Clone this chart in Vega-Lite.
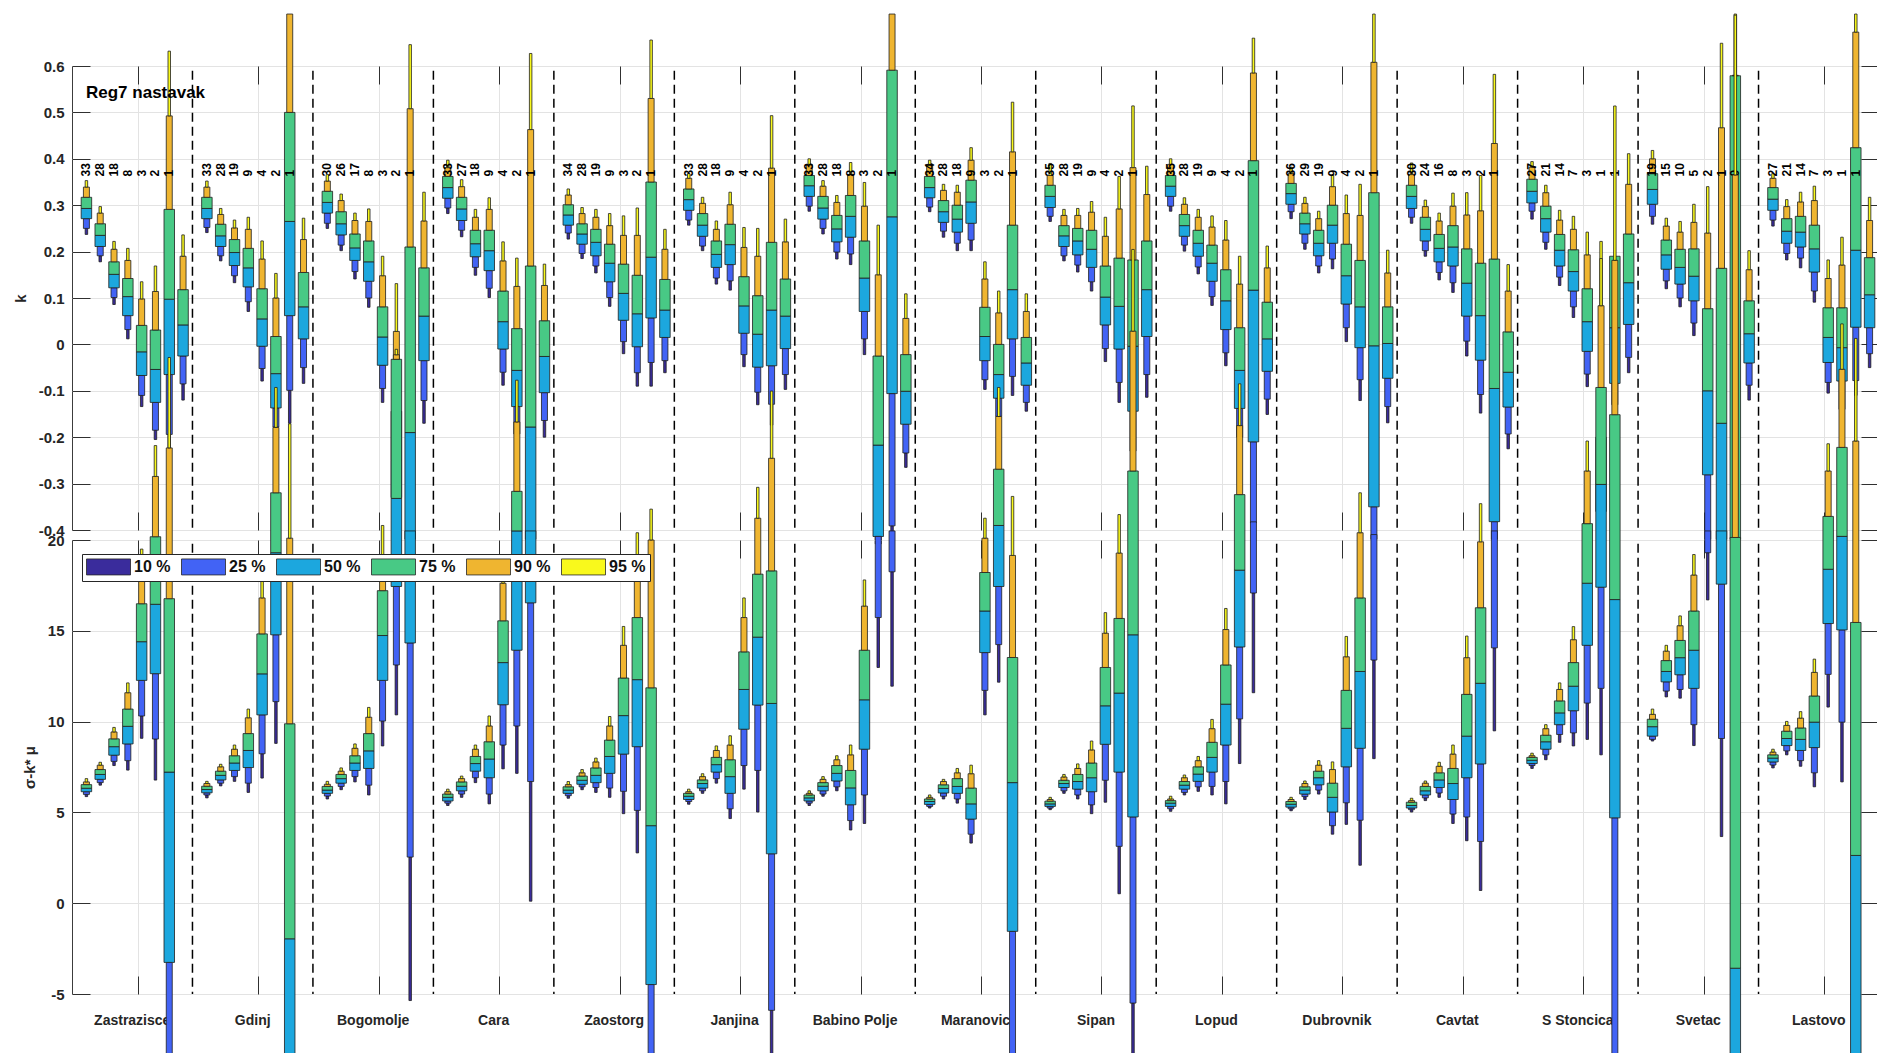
{
"$schema":"https://vega.github.io/schema/vega-lite/v6.json",
"autosize":{"type":"pad"},
"padding":{"left":12,"top":13,"right":0,"bottom":0},
"background":"white",
"spacing":10,
"bounds":"flush",
"datasets":{
"sep":[{"st":"Zastrazisce"},{"st":"Gdinj"},{"st":"Bogomolje"},{"st":"Cara"},{"st":"Zaostorg"},{"st":"Janjina"},{"st":"Babino Polje"},{"st":"Maranovic"},{"st":"Sipan"},{"st":"Lopud"},{"st":"Dubrovnik"},{"st":"Cavtat"},{"st":"S Stoncica"},{"st":"Svetac"}],
"k":[
{"st":"Zastrazisce","bx":1,"q05":0.237,"q10":0.25,"q25":0.271,"q50":0.293,"q75":0.317,"q90":0.339,"q95":0.353,"n":"33"},
{"st":"Zastrazisce","bx":2,"q05":0.178,"q10":0.191,"q25":0.211,"q50":0.235,"q75":0.26,"q90":0.283,"q95":0.297,"n":"28"},
{"st":"Zastrazisce","bx":3,"q05":0.086,"q10":0.101,"q25":0.122,"q50":0.151,"q75":0.178,"q90":0.205,"q95":0.222,"n":"18"},
{"st":"Zastrazisce","bx":4,"q05":0.012,"q10":0.032,"q25":0.062,"q50":0.103,"q75":0.142,"q90":0.181,"q95":0.207,"n":"8"},
{"st":"Zastrazisce","bx":5,"q05":-0.134,"q10":-0.11,"q25":-0.067,"q50":-0.016,"q75":0.041,"q90":0.098,"q95":0.135,"n":"3"},
{"st":"Zastrazisce","bx":6,"q05":-0.205,"q10":-0.185,"q25":-0.125,"q50":-0.054,"q75":0.031,"q90":0.114,"q95":0.169,"n":"2"},
{"st":"Zastrazisce","bx":7,"q05":-0.25,"q10":-0.194,"q25":-0.065,"q50":0.0975,"q75":0.291,"q90":0.4925,"q95":0.632,"n":"1"},
{"st":"Zastrazisce","bx":8,"q05":-0.12,"q10":-0.085,"q25":-0.025,"q50":0.042,"q75":0.118,"q90":0.19,"q95":0.236},
{"st":"Gdinj","bx":1,"q05":0.241,"q10":0.252,"q25":0.271,"q50":0.293,"q75":0.317,"q90":0.339,"q95":0.352,"n":"33"},
{"st":"Gdinj","bx":2,"q05":0.18,"q10":0.191,"q25":0.211,"q50":0.234,"q75":0.259,"q90":0.28,"q95":0.293,"n":"28"},
{"st":"Gdinj","bx":3,"q05":0.133,"q10":0.148,"q25":0.17,"q50":0.198,"q75":0.226,"q90":0.251,"q95":0.268,"n":"19"},
{"st":"Gdinj","bx":4,"q05":0.071,"q10":0.092,"q25":0.124,"q50":0.165,"q75":0.207,"q90":0.248,"q95":0.274,"n":"9"},
{"st":"Gdinj","bx":5,"q05":-0.079,"q10":-0.052,"q25":-0.004,"q50":0.055,"q75":0.12,"q90":0.184,"q95":0.223,"n":"4"},
{"st":"Gdinj","bx":6,"q05":-0.204,"q10":-0.178,"q25":-0.137,"q50":-0.063,"q75":0.017,"q90":0.1,"q95":0.153,"n":"2"},
{"st":"Gdinj","bx":7,"q05":-0.17,"q10":-0.099,"q25":0.062,"q50":0.265,"q75":0.5,"q90":0.712,"q95":0.712,"n":"1"},
{"st":"Gdinj","bx":8,"q05":-0.084,"q10":-0.05,"q25":0.012,"q50":0.081,"q75":0.155,"q90":0.226,"q95":0.272},
{"st":"Bogomolje","bx":1,"q05":0.25,"q10":0.261,"q25":0.283,"q50":0.306,"q75":0.33,"q90":0.352,"q95":0.366,"n":"30"},
{"st":"Bogomolje","bx":2,"q05":0.202,"q10":0.214,"q25":0.236,"q50":0.26,"q75":0.286,"q90":0.31,"q95":0.324,"n":"26"},
{"st":"Bogomolje","bx":3,"q05":0.141,"q10":0.157,"q25":0.181,"q50":0.208,"q75":0.238,"q90":0.267,"q95":0.283,"n":"17"},
{"st":"Bogomolje","bx":4,"q05":0.08,"q10":0.1,"q25":0.136,"q50":0.178,"q75":0.223,"q90":0.265,"q95":0.292,"n":"8"},
{"st":"Bogomolje","bx":5,"q05":-0.125,"q10":-0.095,"q25":-0.045,"q50":0.016,"q75":0.081,"q90":0.148,"q95":0.19,"n":"3"},
{"st":"Bogomolje","bx":6,"q05":-0.4,"q10":-0.38,"q25":-0.33,"q50":-0.25,"q75":-0.144,"q90":0.028,"q95":0.131,"n":"2"},
{"st":"Bogomolje","bx":7,"q05":-0.42,"q10":-0.42,"q25":-0.42,"q50":-0.19,"q75":0.21,"q90":0.508,"q95":0.646,"n":"1"},
{"st":"Bogomolje","bx":8,"q05":-0.17,"q10":-0.121,"q25":-0.035,"q50":0.061,"q75":0.165,"q90":0.266,"q95":0.328},
{"st":"Cara","bx":1,"q05":0.282,"q10":0.294,"q25":0.315,"q50":0.338,"q75":0.362,"q90":0.381,"q95":0.397,"n":"33"},
{"st":"Cara","bx":2,"q05":0.232,"q10":0.246,"q25":0.267,"q50":0.292,"q75":0.317,"q90":0.34,"q95":0.355,"n":"27"},
{"st":"Cara","bx":3,"q05":0.149,"q10":0.166,"q25":0.189,"q50":0.217,"q75":0.246,"q90":0.274,"q95":0.291,"n":"18"},
{"st":"Cara","bx":4,"q05":0.101,"q10":0.121,"q25":0.159,"q50":0.202,"q75":0.246,"q90":0.291,"q95":0.316,"n":"9"},
{"st":"Cara","bx":5,"q05":-0.088,"q10":-0.06,"q25":-0.01,"q50":0.049,"q75":0.115,"q90":0.18,"q95":0.221,"n":"4"},
{"st":"Cara","bx":6,"q05":-0.219,"q10":-0.193,"q25":-0.134,"q50":-0.056,"q75":0.034,"q90":0.125,"q95":0.186,"n":"2"},
{"st":"Cara","bx":7,"q05":-0.42,"q10":-0.42,"q25":-0.42,"q50":-0.178,"q75":0.169,"q90":0.463,"q95":0.627,"n":"1"},
{"st":"Cara","bx":8,"q05":-0.2,"q10":-0.164,"q25":-0.104,"q50":-0.026,"q75":0.051,"q90":0.127,"q95":0.173},
{"st":"Zaostorg","bx":1,"q05":0.227,"q10":0.24,"q25":0.257,"q50":0.279,"q75":0.301,"q90":0.322,"q95":0.335,"n":"34"},
{"st":"Zaostorg","bx":2,"q05":0.185,"q10":0.196,"q25":0.216,"q50":0.238,"q75":0.26,"q90":0.282,"q95":0.295,"n":"28"},
{"st":"Zaostorg","bx":3,"q05":0.154,"q10":0.169,"q25":0.191,"q50":0.22,"q75":0.248,"q90":0.274,"q95":0.291,"n":"19"},
{"st":"Zaostorg","bx":4,"q05":0.082,"q10":0.101,"q25":0.135,"q50":0.175,"q75":0.216,"q90":0.256,"q95":0.282,"n":"9"},
{"st":"Zaostorg","bx":5,"q05":-0.02,"q10":0.006,"q25":0.052,"q50":0.11,"q75":0.173,"q90":0.235,"q95":0.277,"n":"3"},
{"st":"Zaostorg","bx":6,"q05":-0.09,"q10":-0.061,"q25":-0.005,"q50":0.066,"q75":0.149,"q90":0.235,"q95":0.294,"n":"2"},
{"st":"Zaostorg","bx":7,"q05":-0.09,"q10":-0.039,"q25":0.057,"q50":0.188,"q75":0.35,"q90":0.53,"q95":0.656,"n":"1"},
{"st":"Zaostorg","bx":8,"q05":-0.061,"q10":-0.035,"q25":0.015,"q50":0.074,"q75":0.14,"q90":0.205,"q95":0.248},
{"st":"Janjina","bx":1,"q05":0.257,"q10":0.268,"q25":0.289,"q50":0.312,"q75":0.335,"q90":0.358,"q95":0.368,"n":"33"},
{"st":"Janjina","bx":2,"q05":0.202,"q10":0.212,"q25":0.233,"q50":0.257,"q75":0.282,"q90":0.304,"q95":0.317,"n":"28"},
{"st":"Janjina","bx":3,"q05":0.13,"q10":0.143,"q25":0.166,"q50":0.194,"q75":0.223,"q90":0.248,"q95":0.266,"n":"18"},
{"st":"Janjina","bx":4,"q05":0.117,"q10":0.137,"q25":0.172,"q50":0.215,"q75":0.259,"q90":0.301,"q95":0.328,"n":"9"},
{"st":"Janjina","bx":5,"q05":-0.048,"q10":-0.022,"q25":0.024,"q50":0.083,"q75":0.146,"q90":0.209,"q95":0.252,"n":"4"},
{"st":"Janjina","bx":6,"q05":-0.13,"q10":-0.103,"q25":-0.049,"q50":0.022,"q75":0.105,"q90":0.19,"q95":0.25,"n":"2"},
{"st":"Janjina","bx":7,"q05":-0.174,"q10":-0.129,"q25":-0.046,"q50":0.074,"q75":0.22,"q90":0.38,"q95":0.493,"n":"1"},
{"st":"Janjina","bx":8,"q05":-0.097,"q10":-0.065,"q25":-0.009,"q50":0.061,"q75":0.141,"q90":0.221,"q95":0.27},
{"st":"Babino Polje","bx":1,"q05":0.287,"q10":0.298,"q25":0.319,"q50":0.342,"q75":0.364,"q90":0.388,"q95":0.4,"n":"33"},
{"st":"Babino Polje","bx":2,"q05":0.238,"q10":0.25,"q25":0.27,"q50":0.294,"q75":0.319,"q90":0.341,"q95":0.353,"n":"28"},
{"st":"Babino Polje","bx":3,"q05":0.184,"q10":0.199,"q25":0.221,"q50":0.249,"q75":0.278,"q90":0.306,"q95":0.321,"n":"18"},
{"st":"Babino Polje","bx":4,"q05":0.172,"q10":0.195,"q25":0.231,"q50":0.276,"q75":0.321,"q90":0.366,"q95":0.392,"n":"8"},
{"st":"Babino Polje","bx":5,"q05":-0.022,"q10":0.012,"q25":0.071,"q50":0.143,"q75":0.223,"q90":0.298,"q95":0.349,"n":"3"},
{"st":"Babino Polje","bx":6,"q05":-0.43,"q10":-0.43,"q25":-0.414,"q50":-0.217,"q75":-0.025,"q90":0.15,"q95":0.257,"n":"2"},
{"st":"Babino Polje","bx":7,"q05":-0.42,"q10":-0.391,"q25":-0.106,"q50":0.275,"q75":0.591,"q90":0.712,"q95":0.712,"n":"1"},
{"st":"Babino Polje","bx":8,"q05":-0.265,"q10":-0.234,"q25":-0.172,"q50":-0.101,"q75":-0.022,"q90":0.056,"q95":0.109},
{"st":"Maranovic","bx":1,"q05":0.286,"q10":0.296,"q25":0.316,"q50":0.338,"q75":0.362,"q90":0.388,"q95":0.397,"n":"34"},
{"st":"Maranovic","bx":2,"q05":0.231,"q10":0.244,"q25":0.263,"q50":0.286,"q75":0.31,"q90":0.332,"q95":0.345,"n":"28"},
{"st":"Maranovic","bx":3,"q05":0.202,"q10":0.218,"q25":0.242,"q50":0.27,"q75":0.3,"q90":0.328,"q95":0.343,"n":"18"},
{"st":"Maranovic","bx":4,"q05":0.202,"q10":0.225,"q25":0.261,"q50":0.307,"q75":0.354,"q90":0.397,"q95":0.424,"n":"9"},
{"st":"Maranovic","bx":5,"q05":-0.097,"q10":-0.076,"q25":-0.035,"q50":0.017,"q75":0.08,"q90":0.141,"q95":0.178,"n":"3"},
{"st":"Maranovic","bx":6,"q05":-0.181,"q10":-0.155,"q25":-0.116,"q50":-0.065,"q75":0.0,"q90":0.068,"q95":0.115,"n":"2"},
{"st":"Maranovic","bx":7,"q05":-0.11,"q10":-0.069,"q25":0.012,"q50":0.118,"q75":0.257,"q90":0.415,"q95":0.522,"n":"1"},
{"st":"Maranovic","bx":8,"q05":-0.144,"q10":-0.125,"q25":-0.088,"q50":-0.04,"q75":0.015,"q90":0.071,"q95":0.109},
{"st":"Sipan","bx":1,"q05":0.265,"q10":0.276,"q25":0.295,"q50":0.319,"q75":0.343,"q90":0.364,"q95":0.39,"n":"35"},
{"st":"Sipan","bx":2,"q05":0.18,"q10":0.191,"q25":0.211,"q50":0.234,"q75":0.256,"q90":0.278,"q95":0.291,"n":"28"},
{"st":"Sipan","bx":3,"q05":0.156,"q10":0.171,"q25":0.193,"q50":0.223,"q75":0.25,"q90":0.278,"q95":0.293,"n":"19"},
{"st":"Sipan","bx":4,"q05":0.115,"q10":0.135,"q25":0.166,"q50":0.205,"q75":0.246,"q90":0.285,"q95":0.308,"n":"9"},
{"st":"Sipan","bx":5,"q05":-0.037,"q10":-0.009,"q25":0.042,"q50":0.102,"q75":0.169,"q90":0.233,"q95":0.274,"n":"4"},
{"st":"Sipan","bx":6,"q05":-0.125,"q10":-0.082,"q25":-0.01,"q50":0.082,"q75":0.186,"q90":0.292,"q95":0.362,"n":"2"},
{"st":"Sipan","bx":7,"q05":-0.28,"q10":-0.23,"q25":-0.144,"q50":-0.004,"q75":0.182,"q90":0.381,"q95":0.514,"n":"1"},
{"st":"Sipan","bx":8,"q05":-0.114,"q10":-0.065,"q25":0.017,"q50":0.118,"q75":0.223,"q90":0.323,"q95":0.384},
{"st":"Lopud","bx":1,"q05":0.287,"q10":0.298,"q25":0.319,"q50":0.341,"q75":0.364,"q90":0.388,"q95":0.4,"n":"35"},
{"st":"Lopud","bx":2,"q05":0.201,"q10":0.214,"q25":0.233,"q50":0.256,"q75":0.28,"q90":0.302,"q95":0.316,"n":"28"},
{"st":"Lopud","bx":3,"q05":0.152,"q10":0.167,"q25":0.19,"q50":0.218,"q75":0.246,"q90":0.274,"q95":0.291,"n":"19"},
{"st":"Lopud","bx":4,"q05":0.084,"q10":0.103,"q25":0.136,"q50":0.175,"q75":0.214,"q90":0.253,"q95":0.277,"n":"9"},
{"st":"Lopud","bx":5,"q05":-0.046,"q10":-0.018,"q25":0.032,"q50":0.094,"q75":0.161,"q90":0.225,"q95":0.267,"n":"4"},
{"st":"Lopud","bx":6,"q05":-0.23,"q10":-0.2,"q25":-0.138,"q50":-0.056,"q75":0.036,"q90":0.13,"q95":0.19,"n":"2"},
{"st":"Lopud","bx":7,"q05":-0.42,"q10":-0.384,"q25":-0.21,"q50":0.117,"q75":0.396,"q90":0.585,"q95":0.66,"n":"1"},
{"st":"Lopud","bx":8,"q05":-0.151,"q10":-0.118,"q25":-0.058,"q50":0.012,"q75":0.091,"q90":0.165,"q95":0.212},
{"st":"Dubrovnik","bx":1,"q05":0.271,"q10":0.286,"q25":0.302,"q50":0.325,"q75":0.347,"q90":0.368,"q95":0.382,"n":"36"},
{"st":"Dubrovnik","bx":2,"q05":0.205,"q10":0.218,"q25":0.238,"q50":0.26,"q75":0.283,"q90":0.304,"q95":0.317,"n":"29"},
{"st":"Dubrovnik","bx":3,"q05":0.154,"q10":0.169,"q25":0.191,"q50":0.218,"q75":0.246,"q90":0.271,"q95":0.287,"n":"19"},
{"st":"Dubrovnik","bx":4,"q05":0.163,"q10":0.184,"q25":0.218,"q50":0.257,"q75":0.3,"q90":0.34,"q95":0.364,"n":"9"},
{"st":"Dubrovnik","bx":5,"q05":0.006,"q10":0.036,"q25":0.087,"q50":0.148,"q75":0.216,"q90":0.282,"q95":0.322,"n":"4"},
{"st":"Dubrovnik","bx":6,"q05":-0.121,"q10":-0.076,"q25":-0.007,"q50":0.081,"q75":0.181,"q90":0.278,"q95":0.345,"n":"2"},
{"st":"Dubrovnik","bx":7,"q05":-0.42,"q10":-0.42,"q25":-0.35,"q50":-0.003,"q75":0.327,"q90":0.608,"q95":0.712,"n":"1"},
{"st":"Dubrovnik","bx":8,"q05":-0.169,"q10":-0.134,"q25":-0.073,"q50":0.002,"q75":0.081,"q90":0.154,"q95":0.203},
{"st":"Cavtat","bx":1,"q05":0.261,"q10":0.274,"q25":0.293,"q50":0.319,"q75":0.343,"q90":0.366,"q95":0.391,"n":"30"},
{"st":"Cavtat","bx":2,"q05":0.19,"q10":0.202,"q25":0.223,"q50":0.248,"q75":0.274,"q90":0.297,"q95":0.311,"n":"24"},
{"st":"Cavtat","bx":3,"q05":0.139,"q10":0.155,"q25":0.178,"q50":0.207,"q75":0.237,"q90":0.266,"q95":0.283,"n":"16"},
{"st":"Cavtat","bx":4,"q05":0.112,"q10":0.133,"q25":0.169,"q50":0.21,"q75":0.256,"q90":0.298,"q95":0.326,"n":"8"},
{"st":"Cavtat","bx":5,"q05":-0.025,"q10":0.007,"q25":0.061,"q50":0.132,"q75":0.206,"q90":0.279,"q95":0.327,"n":"3"},
{"st":"Cavtat","bx":6,"q05":-0.148,"q10":-0.108,"q25":-0.034,"q50":0.062,"q75":0.175,"q90":0.288,"q95":0.364,"n":"2"},
{"st":"Cavtat","bx":7,"q05":-0.42,"q10":-0.42,"q25":-0.382,"q50":-0.095,"q75":0.184,"q90":0.433,"q95":0.582,"n":"1"},
{"st":"Cavtat","bx":8,"q05":-0.225,"q10":-0.193,"q25":-0.135,"q50":-0.06,"q75":0.027,"q90":0.115,"q95":0.172},
{"st":"S Stoncica","bx":1,"q05":0.27,"q10":0.287,"q25":0.305,"q50":0.33,"q75":0.356,"q90":0.382,"q95":0.394,"n":"27"},
{"st":"S Stoncica","bx":2,"q05":0.205,"q10":0.22,"q25":0.242,"q50":0.271,"q75":0.298,"q90":0.327,"q95":0.343,"n":"21"},
{"st":"S Stoncica","bx":3,"q05":0.127,"q10":0.145,"q25":0.169,"q50":0.203,"q75":0.237,"q90":0.268,"q95":0.289,"n":"14"},
{"st":"S Stoncica","bx":4,"q05":0.058,"q10":0.081,"q25":0.115,"q50":0.157,"q75":0.204,"q90":0.248,"q95":0.276,"n":"7"},
{"st":"S Stoncica","bx":5,"q05":-0.091,"q10":-0.064,"q25":-0.015,"q50":0.049,"q75":0.12,"q90":0.193,"q95":0.242,"n":"3"},
{"st":"S Stoncica","bx":6,"q05":-0.42,"q10":-0.4,"q25":-0.36,"q50":-0.3,"q75":-0.2,"q90":-0.1,"q95":0.222,"n":"1"},
{"st":"S Stoncica","bx":7,"q05":-0.15,"q10":-0.13,"q25":-0.084,"q50":0.036,"q75":0.19,"q90":0.19,"q95":0.19,"n":"1"},
{"st":"S Stoncica","bx":8,"q05":-0.061,"q10":-0.028,"q25":0.043,"q50":0.133,"q75":0.238,"q90":0.345,"q95":0.411},
{"st":"Svetac","bx":1,"q05":0.259,"q10":0.276,"q25":0.302,"q50":0.334,"q75":0.368,"q90":0.4,"q95":0.418,"n":"19"},
{"st":"Svetac","bx":2,"q05":0.12,"q10":0.137,"q25":0.162,"q50":0.193,"q75":0.225,"q90":0.255,"q95":0.272,"n":"15"},
{"st":"Svetac","bx":3,"q05":0.081,"q10":0.1,"q25":0.13,"q50":0.166,"q75":0.205,"q90":0.242,"q95":0.265,"n":"10"},
{"st":"Svetac","bx":4,"q05":0.019,"q10":0.046,"q25":0.094,"q50":0.147,"q75":0.206,"q90":0.263,"q95":0.302,"n":"5"},
{"st":"Svetac","bx":5,"q05":-0.42,"q10":-0.42,"q25":-0.281,"q50":-0.1,"q75":0.077,"q90":0.24,"q95":0.34,"n":"2"},
{"st":"Svetac","bx":6,"q05":-0.42,"q10":-0.42,"q25":-0.42,"q50":-0.17,"q75":0.164,"q90":0.467,"q95":0.649,"n":"1"},
{"st":"Svetac","bx":7,"q05":-0.42,"q10":-0.42,"q25":-0.42,"q50":-0.42,"q75":0.579,"q90":0.58,"q95":0.712,"n":"0"},
{"st":"Svetac","bx":8,"q05":-0.12,"q10":-0.088,"q25":-0.04,"q50":0.023,"q75":0.094,"q90":0.161,"q95":0.202},
{"st":"Lastovo","bx":1,"q05":0.255,"q10":0.268,"q25":0.289,"q50":0.313,"q75":0.338,"q90":0.358,"q95":0.368,"n":"27"},
{"st":"Lastovo","bx":2,"q05":0.182,"q10":0.196,"q25":0.218,"q50":0.244,"q75":0.271,"q90":0.297,"q95":0.312,"n":"21"},
{"st":"Lastovo","bx":3,"q05":0.165,"q10":0.186,"q25":0.21,"q50":0.242,"q75":0.276,"q90":0.307,"q95":0.328,"n":"14"},
{"st":"Lastovo","bx":4,"q05":0.091,"q10":0.115,"q25":0.156,"q50":0.206,"q75":0.257,"q90":0.31,"q95":0.341,"n":"7"},
{"st":"Lastovo","bx":5,"q05":-0.105,"q10":-0.082,"q25":-0.039,"q50":0.015,"q75":0.079,"q90":0.142,"q95":0.182,"n":"3"},
{"st":"Lastovo","bx":6,"q05":-0.17,"q10":-0.14,"q25":-0.079,"q50":-0.007,"q75":0.079,"q90":0.171,"q95":0.231,"n":"1"},
{"st":"Lastovo","bx":7,"q05":-0.11,"q10":-0.078,"q25":0.037,"q50":0.203,"q75":0.424,"q90":0.673,"q95":0.712,"n":"1"},
{"st":"Lastovo","bx":8,"q05":-0.05,"q10":-0.02,"q25":0.036,"q50":0.107,"q75":0.187,"q90":0.267,"q95":0.317}
],
"s":[
{"st":"Zastrazisce","bx":1,"q05":5.87,"q10":5.99,"q25":6.14,"q50":6.33,"q75":6.53,"q90":6.68,"q95":6.86},
{"st":"Zastrazisce","bx":2,"q05":6.5,"q10":6.64,"q25":6.82,"q50":7.09,"q75":7.36,"q90":7.6,"q95":7.76},
{"st":"Zastrazisce","bx":3,"q05":7.58,"q10":7.81,"q25":8.15,"q50":8.62,"q75":9.05,"q90":9.43,"q95":9.68},
{"st":"Zastrazisce","bx":4,"q05":7.33,"q10":7.85,"q25":8.77,"q50":9.74,"q75":10.69,"q90":11.59,"q95":12.13},
{"st":"Zastrazisce","bx":5,"q05":9.08,"q10":10.31,"q25":12.27,"q50":14.4,"q75":16.49,"q90":18.5,"q95":19.5},
{"st":"Zastrazisce","bx":6,"q05":6.78,"q10":9.04,"q25":12.64,"q50":16.46,"q75":20.18,"q90":23.5,"q95":25.2},
{"st":"Zastrazisce","bx":7,"q05":-8.3,"q10":-8.3,"q25":-3.26,"q50":7.22,"q75":16.77,"q90":25.07,"q95":30.05},
{"st":"Gdinj","bx":1,"q05":5.8,"q10":5.96,"q25":6.08,"q50":6.26,"q75":6.44,"q90":6.59,"q95":6.71},
{"st":"Gdinj","bx":2,"q05":6.46,"q10":6.61,"q25":6.79,"q50":7.04,"q75":7.27,"q90":7.51,"q95":7.65},
{"st":"Gdinj","bx":3,"q05":6.71,"q10":6.97,"q25":7.31,"q50":7.72,"q75":8.12,"q90":8.48,"q95":8.71},
{"st":"Gdinj","bx":4,"q05":6.1,"q10":6.61,"q25":7.47,"q50":8.41,"q75":9.34,"q90":10.21,"q95":10.69},
{"st":"Gdinj","bx":5,"q05":6.89,"q10":8.23,"q25":10.37,"q50":12.63,"q75":14.83,"q90":16.81,"q95":18.0},
{"st":"Gdinj","bx":6,"q05":8.8,"q10":11.1,"q25":14.78,"q50":19.3,"q75":22.6,"q90":26.2,"q95":28.4},
{"st":"Gdinj","bx":7,"q05":-8.3,"q10":-8.3,"q25":-8.3,"q50":-1.96,"q75":9.88,"q90":20.1,"q95":26.4},
{"st":"Bogomolje","bx":1,"q05":5.74,"q10":5.9,"q25":6.05,"q50":6.23,"q75":6.43,"q90":6.55,"q95":6.71},
{"st":"Bogomolje","bx":2,"q05":6.25,"q10":6.43,"q25":6.61,"q50":6.86,"q75":7.09,"q90":7.27,"q95":7.45},
{"st":"Bogomolje","bx":3,"q05":6.68,"q10":6.97,"q25":7.31,"q50":7.72,"q75":8.12,"q90":8.53,"q95":8.77},
{"st":"Bogomolje","bx":4,"q05":5.96,"q10":6.5,"q25":7.42,"q50":8.39,"q75":9.34,"q90":10.24,"q95":10.78},
{"st":"Bogomolje","bx":5,"q05":8.66,"q10":10.03,"q25":12.27,"q50":14.74,"q75":17.21,"q90":19.0,"q95":20.8},
{"st":"Bogomolje","bx":6,"q05":10.37,"q10":13.12,"q25":17.44,"q50":22.29,"q75":29.95,"q90":30.2,"q95":30.5},
{"st":"Bogomolje","bx":7,"q05":-5.36,"q10":2.54,"q25":14.33,"q50":20.5,"q75":20.5,"q90":20.5,"q95":20.5},
{"st":"Cara","bx":1,"q05":5.38,"q10":5.51,"q25":5.63,"q50":5.83,"q75":6.01,"q90":6.14,"q95":6.28},
{"st":"Cara","bx":2,"q05":5.83,"q10":6.01,"q25":6.19,"q50":6.44,"q75":6.68,"q90":6.86,"q95":7.0},
{"st":"Cara","bx":3,"q05":6.64,"q10":6.91,"q25":7.27,"q50":7.69,"q75":8.08,"q90":8.48,"q95":8.71},
{"st":"Cara","bx":4,"q05":5.47,"q10":6.01,"q25":6.91,"q50":7.94,"q75":8.89,"q90":9.76,"q95":10.31},
{"st":"Cara","bx":5,"q05":7.4,"q10":8.71,"q25":10.93,"q50":13.25,"q75":15.55,"q90":17.62,"q95":18.8},
{"st":"Cara","bx":6,"q05":7.15,"q10":9.76,"q25":13.93,"q50":20.5,"q75":22.68,"q90":26.5,"q95":28.8},
{"st":"Cara","bx":7,"q05":0.11,"q10":6.7,"q25":16.54,"q50":20.5,"q75":20.5,"q90":20.5,"q95":20.5},
{"st":"Zaostorg","bx":1,"q05":5.78,"q10":5.92,"q25":6.05,"q50":6.23,"q75":6.41,"q90":6.53,"q95":6.7},
{"st":"Zaostorg","bx":2,"q05":6.25,"q10":6.41,"q25":6.55,"q50":6.77,"q75":7.0,"q90":7.18,"q95":7.36},
{"st":"Zaostorg","bx":3,"q05":6.1,"q10":6.37,"q25":6.64,"q50":7.04,"q75":7.45,"q90":7.78,"q95":7.99},
{"st":"Zaostorg","bx":4,"q05":5.83,"q10":6.34,"q25":7.15,"q50":8.08,"q75":8.98,"q90":9.76,"q95":10.28},
{"st":"Zaostorg","bx":5,"q05":4.93,"q10":6.16,"q25":8.21,"q50":10.33,"q75":12.4,"q90":14.2,"q95":15.24},
{"st":"Zaostorg","bx":6,"q05":2.77,"q10":5.11,"q25":8.62,"q50":12.31,"q75":15.73,"q90":18.4,"q95":20.4},
{"st":"Zaostorg","bx":7,"q05":-8.3,"q10":-8.3,"q25":-4.48,"q50":4.27,"q75":11.86,"q90":20.0,"q95":21.7},
{"st":"Janjina","bx":1,"q05":5.45,"q10":5.6,"q25":5.71,"q50":5.89,"q75":6.05,"q90":6.14,"q95":6.28},
{"st":"Janjina","bx":2,"q05":6.05,"q10":6.19,"q25":6.34,"q50":6.59,"q75":6.79,"q90":6.97,"q95":7.13},
{"st":"Janjina","bx":3,"q05":6.61,"q10":6.86,"q25":7.22,"q50":7.63,"q75":8.03,"q90":8.41,"q95":8.66},
{"st":"Janjina","bx":4,"q05":4.66,"q10":5.2,"q25":6.05,"q50":6.97,"q75":7.9,"q90":8.71,"q95":9.22},
{"st":"Janjina","bx":5,"q05":6.28,"q10":7.58,"q25":9.58,"q50":11.77,"q75":13.84,"q90":15.73,"q95":16.81},
{"st":"Janjina","bx":6,"q05":5.02,"q10":7.31,"q25":10.91,"q50":14.65,"q75":18.12,"q90":21.2,"q95":22.9},
{"st":"Janjina","bx":7,"q05":-8.3,"q10":-5.9,"q25":2.72,"q50":11.0,"q75":18.3,"q90":24.5,"q95":28.2},
{"st":"Babino Polje","bx":1,"q05":5.38,"q10":5.51,"q25":5.63,"q50":5.8,"q75":5.96,"q90":6.05,"q95":6.19},
{"st":"Babino Polje","bx":2,"q05":5.89,"q10":6.01,"q25":6.19,"q50":6.44,"q75":6.64,"q90":6.82,"q95":6.97},
{"st":"Babino Polje","bx":3,"q05":6.19,"q10":6.41,"q25":6.73,"q50":7.15,"q75":7.58,"q90":7.9,"q95":8.12},
{"st":"Babino Polje","bx":4,"q05":4.03,"q10":4.55,"q25":5.42,"q50":6.35,"q75":7.31,"q90":8.17,"q95":8.71},
{"st":"Babino Polje","bx":5,"q05":4.39,"q10":5.96,"q25":8.48,"q50":11.2,"q75":13.93,"q90":16.36,"q95":17.8},
{"st":"Babino Polje","bx":6,"q05":12.98,"q10":15.73,"q25":20.2,"q50":20.2,"q75":20.2,"q90":20.2,"q95":20.2},
{"st":"Babino Polje","bx":7,"q05":11.95,"q10":18.25,"q25":20.5,"q50":20.5,"q75":20.5,"q90":20.5,"q95":20.5},
{"st":"Maranovic","bx":1,"q05":5.24,"q10":5.33,"q25":5.44,"q50":5.6,"q75":5.74,"q90":5.83,"q95":5.96},
{"st":"Maranovic","bx":2,"q05":5.74,"q10":5.89,"q25":6.07,"q50":6.32,"q75":6.52,"q90":6.7,"q95":6.82},
{"st":"Maranovic","bx":3,"q05":5.51,"q10":5.74,"q25":6.05,"q50":6.43,"q75":6.86,"q90":7.18,"q95":7.42},
{"st":"Maranovic","bx":4,"q05":3.31,"q10":3.8,"q25":4.63,"q50":5.47,"q75":6.34,"q90":7.13,"q95":7.6},
{"st":"Maranovic","bx":5,"q05":10.37,"q10":11.72,"q25":13.8,"q50":16.09,"q75":18.21,"q90":20.1,"q95":21.2},
{"st":"Maranovic","bx":6,"q05":12.17,"q10":14.24,"q25":17.44,"q50":20.8,"q75":23.9,"q90":26.8,"q95":28.4},
{"st":"Maranovic","bx":7,"q05":-8.3,"q10":-8.3,"q25":-1.55,"q50":6.64,"q75":13.53,"q90":19.15,"q95":22.4},
{"st":"Sipan","bx":1,"q05":5.15,"q10":5.24,"q25":5.33,"q50":5.47,"q75":5.62,"q90":5.71,"q95":5.83},
{"st":"Sipan","bx":2,"q05":6.05,"q10":6.19,"q25":6.37,"q50":6.59,"q75":6.77,"q90":6.95,"q95":7.09},
{"st":"Sipan","bx":3,"q05":5.74,"q10":5.96,"q25":6.28,"q50":6.7,"q75":7.09,"q90":7.42,"q95":7.67},
{"st":"Sipan","bx":4,"q05":4.93,"q10":5.42,"q25":6.14,"q50":6.91,"q75":7.72,"q90":8.44,"q95":8.93},
{"st":"Sipan","bx":5,"q05":5.56,"q10":6.77,"q25":8.75,"q50":10.87,"q75":12.98,"q90":14.87,"q95":16.0},
{"st":"Sipan","bx":6,"q05":0.52,"q10":3.13,"q25":7.22,"q50":11.57,"q75":15.68,"q90":19.28,"q95":21.4},
{"st":"Sipan","bx":7,"q05":-8.3,"q10":-5.5,"q25":4.75,"q50":14.78,"q75":23.8,"q90":31.5,"q95":36.0},
{"st":"Lopud","bx":1,"q05":5.06,"q10":5.2,"q25":5.33,"q50":5.51,"q75":5.65,"q90":5.74,"q95":5.89},
{"st":"Lopud","bx":2,"q05":5.96,"q10":6.1,"q25":6.28,"q50":6.5,"q75":6.7,"q90":6.91,"q95":7.06},
{"st":"Lopud","bx":3,"q05":6.16,"q10":6.41,"q25":6.71,"q50":7.11,"q75":7.51,"q90":7.85,"q95":8.08},
{"st":"Lopud","bx":4,"q05":5.96,"q10":6.43,"q25":7.22,"q50":8.03,"q75":8.86,"q90":9.61,"q95":10.12},
{"st":"Lopud","bx":5,"q05":5.47,"q10":6.7,"q25":8.71,"q50":10.96,"q75":13.12,"q90":15.07,"q95":16.23},
{"st":"Lopud","bx":6,"q05":7.69,"q10":10.15,"q25":14.11,"q50":18.34,"q75":22.5,"q90":26.3,"q95":28.6},
{"st":"Lopud","bx":7,"q05":11.59,"q10":17.08,"q25":21.0,"q50":21.0,"q75":21.0,"q90":21.0,"q95":21.0},
{"st":"Dubrovnik","bx":1,"q05":5.09,"q10":5.2,"q25":5.29,"q50":5.45,"q75":5.6,"q90":5.71,"q95":5.83},
{"st":"Dubrovnik","bx":2,"q05":5.71,"q10":5.87,"q25":6.01,"q50":6.23,"q75":6.41,"q90":6.59,"q95":6.73},
{"st":"Dubrovnik","bx":3,"q05":6.01,"q10":6.23,"q25":6.52,"q50":6.91,"q75":7.27,"q90":7.6,"q95":7.85},
{"st":"Dubrovnik","bx":4,"q05":3.8,"q10":4.27,"q25":5.02,"q50":5.83,"q75":6.61,"q90":7.36,"q95":7.78},
{"st":"Dubrovnik","bx":5,"q05":4.34,"q10":5.53,"q25":7.51,"q50":9.63,"q75":11.72,"q90":13.57,"q95":14.69},
{"st":"Dubrovnik","bx":6,"q05":2.09,"q10":4.57,"q25":8.53,"q50":12.76,"q75":16.81,"q90":20.4,"q95":22.6},
{"st":"Dubrovnik","bx":7,"q05":7.96,"q10":13.39,"q25":20.3,"q50":20.3,"q75":20.3,"q90":20.3,"q95":20.3},
{"st":"Cavtat","bx":1,"q05":5.02,"q10":5.15,"q25":5.24,"q50":5.38,"q75":5.56,"q90":5.65,"q95":5.78},
{"st":"Cavtat","bx":2,"q05":5.65,"q10":5.8,"q25":5.96,"q50":6.19,"q75":6.43,"q90":6.61,"q95":6.73},
{"st":"Cavtat","bx":3,"q05":5.83,"q10":6.07,"q25":6.37,"q50":6.79,"q75":7.18,"q90":7.54,"q95":7.76},
{"st":"Cavtat","bx":4,"q05":4.39,"q10":4.91,"q25":5.71,"q50":6.59,"q75":7.42,"q90":8.21,"q95":8.71},
{"st":"Cavtat","bx":5,"q05":3.44,"q10":4.75,"q25":6.91,"q50":9.2,"q75":11.5,"q90":13.52,"q95":14.71},
{"st":"Cavtat","bx":6,"q05":0.7,"q10":3.4,"q25":7.67,"q50":12.11,"q75":16.27,"q90":19.9,"q95":22.0},
{"st":"Cavtat","bx":7,"q05":9.49,"q10":14.06,"q25":20.5,"q50":20.5,"q75":20.5,"q90":20.5,"q95":20.5},
{"st":"S Stoncica","bx":1,"q05":7.42,"q10":7.58,"q25":7.69,"q50":7.87,"q75":8.03,"q90":8.12,"q95":8.26},
{"st":"S Stoncica","bx":2,"q05":7.9,"q10":8.17,"q25":8.48,"q50":8.89,"q75":9.25,"q90":9.61,"q95":9.83},
{"st":"S Stoncica","bx":3,"q05":8.86,"q10":9.29,"q25":9.83,"q50":10.48,"q75":11.14,"q90":11.77,"q95":12.13},
{"st":"S Stoncica","bx":4,"q05":8.66,"q10":9.38,"q25":10.6,"q50":11.95,"q75":13.25,"q90":14.51,"q95":15.23},
{"st":"S Stoncica","bx":5,"q05":9.02,"q10":11.02,"q25":14.2,"q50":17.62,"q75":20.9,"q90":23.8,"q95":25.45},
{"st":"S Stoncica","bx":6,"q05":8.17,"q10":11.83,"q25":17.4,"q50":23.06,"q75":28.4,"q90":32.9,"q95":35.5},
{"st":"S Stoncica","bx":7,"q05":-8.3,"q10":-8.3,"q25":4.7,"q50":16.72,"q75":26.9,"q90":35.4,"q95":43.9},
{"st":"Svetac","bx":1,"q05":8.93,"q10":9.02,"q25":9.2,"q50":9.72,"q75":10.13,"q90":10.4,"q95":10.69},
{"st":"Svetac","bx":2,"q05":11.36,"q10":11.68,"q25":12.19,"q50":12.76,"q75":13.36,"q90":13.88,"q95":14.2},
{"st":"Svetac","bx":3,"q05":11.29,"q10":11.77,"q25":12.58,"q50":13.52,"q75":14.47,"q90":15.28,"q95":15.82},
{"st":"Svetac","bx":4,"q05":8.68,"q10":9.83,"q25":11.83,"q50":13.93,"q75":16.09,"q90":18.07,"q95":19.2},
{"st":"Svetac","bx":5,"q05":16.7,"q10":19.3,"q25":20.5,"q50":20.5,"q75":20.5,"q90":20.5,"q95":20.5},
{"st":"Svetac","bx":6,"q05":3.67,"q10":9.07,"q25":17.57,"q50":20.5,"q75":20.5,"q90":20.5,"q95":20.5},
{"st":"Svetac","bx":7,"q05":-8.3,"q10":-8.3,"q25":-8.3,"q50":-3.58,"q75":20.14,"q90":40.1,"q95":48.9},
{"st":"Lastovo","bx":1,"q05":7.45,"q10":7.61,"q25":7.78,"q50":7.99,"q75":8.17,"q90":8.32,"q95":8.48},
{"st":"Lastovo","bx":2,"q05":8.17,"q10":8.39,"q25":8.68,"q50":9.07,"q75":9.47,"q90":9.79,"q95":10.01},
{"st":"Lastovo","bx":3,"q05":7.54,"q10":7.85,"q25":8.41,"q50":9.02,"q75":9.65,"q90":10.19,"q95":10.55},
{"st":"Lastovo","bx":4,"q05":6.41,"q10":7.18,"q25":8.57,"q50":9.97,"q75":11.41,"q90":12.71,"q95":13.44},
{"st":"Lastovo","bx":5,"q05":10.8,"q10":12.6,"q25":15.4,"q50":18.39,"q75":21.3,"q90":23.8,"q95":25.3},
{"st":"Lastovo","bx":6,"q05":6.68,"q10":9.97,"q25":15.05,"q50":20.2,"q75":25.1,"q90":29.4,"q95":31.9},
{"st":"Lastovo","bx":7,"q05":-8.3,"q10":-8.3,"q25":-8.3,"q50":2.63,"q75":15.46,"q90":25.45,"q95":31.1}
]
},
"vconcat":[
{
"width":1807,"height":464,
"layer":[
{
"data":{"name":"k"},
"encoding":{
"x":{"field":"st","type":"nominal","scale":{"domain":["Zastrazisce","Gdinj","Bogomolje","Cara","Zaostorg","Janjina","Babino Polje","Maranovic","Sipan","Lopud","Dubrovnik","Cavtat","S Stoncica","Svetac","Lastovo"],"paddingInner":0,"paddingOuter":0},"axis":{"orient":"bottom","labels":false,"title":null,"bandPosition":0.55,"grid":true}},
"xOffset":{"field":"bx","type":"nominal","scale":{"domain":[1,2,3,4,5,6,7,8],"paddingInner":0,"paddingOuter":0.363,"align":0.75}}
},
"layer":[
{"transform":[{"filter":"datum.q10>datum.q05"}],"mark":{"type":"bar","size":2.5},"encoding":{"y":{"field":"q05","type":"quantitative","scale":{"domain":[-0.4,0.6],"nice":false,"zero":false},"axis":{"orient":"left","title":"k","values":[-0.4,-0.3,-0.2,-0.1,0,0.1,0.2,0.3,0.4,0.5,0.6],"format":".1~f","labelExpr":"replace(datum.label,'−','-')","grid":true,"labelPadding":26,"titlePadding":10,"labelFontSize":15}},"y2":{"field":"q10"},"color":{"datum":"10 %","scale":{"domain":["10 %","25 %","50 %","75 %","90 %","95 %"],"range":["#3a2c9c","#4263f5","#1ca7de","#48c985","#efb530","#f9f91c"]},"legend":null}}},
{"transform":[{"filter":"datum.q25>datum.q10"}],"mark":{"type":"bar","size":6},"encoding":{"y":{"field":"q10","type":"quantitative","scale":{"domain":[-0.4,0.6],"nice":false,"zero":false},"axis":{"orient":"left","title":"k","values":[-0.4,-0.3,-0.2,-0.1,0,0.1,0.2,0.3,0.4,0.5,0.6],"format":".1~f","labelExpr":"replace(datum.label,'−','-')","grid":true,"labelPadding":26,"titlePadding":10,"labelFontSize":15}},"y2":{"field":"q25"},"color":{"datum":"25 %","scale":{"domain":["10 %","25 %","50 %","75 %","90 %","95 %"],"range":["#3a2c9c","#4263f5","#1ca7de","#48c985","#efb530","#f9f91c"]},"legend":null}}},
{"transform":[{"filter":"datum.q50>datum.q25"}],"mark":{"type":"bar","size":10.5},"encoding":{"y":{"field":"q25","type":"quantitative","scale":{"domain":[-0.4,0.6],"nice":false,"zero":false},"axis":{"orient":"left","title":"k","values":[-0.4,-0.3,-0.2,-0.1,0,0.1,0.2,0.3,0.4,0.5,0.6],"format":".1~f","labelExpr":"replace(datum.label,'−','-')","grid":true,"labelPadding":26,"titlePadding":10,"labelFontSize":15}},"y2":{"field":"q50"},"color":{"datum":"50 %","scale":{"domain":["10 %","25 %","50 %","75 %","90 %","95 %"],"range":["#3a2c9c","#4263f5","#1ca7de","#48c985","#efb530","#f9f91c"]},"legend":null}}},
{"transform":[{"filter":"datum.q75>datum.q50"}],"mark":{"type":"bar","size":10.5},"encoding":{"y":{"field":"q50","type":"quantitative","scale":{"domain":[-0.4,0.6],"nice":false,"zero":false},"axis":{"orient":"left","title":"k","values":[-0.4,-0.3,-0.2,-0.1,0,0.1,0.2,0.3,0.4,0.5,0.6],"format":".1~f","labelExpr":"replace(datum.label,'−','-')","grid":true,"labelPadding":26,"titlePadding":10,"labelFontSize":15}},"y2":{"field":"q75"},"color":{"datum":"75 %","scale":{"domain":["10 %","25 %","50 %","75 %","90 %","95 %"],"range":["#3a2c9c","#4263f5","#1ca7de","#48c985","#efb530","#f9f91c"]},"legend":null}}},
{"transform":[{"filter":"datum.q90>datum.q75"}],"mark":{"type":"bar","size":6},"encoding":{"y":{"field":"q75","type":"quantitative","scale":{"domain":[-0.4,0.6],"nice":false,"zero":false},"axis":{"orient":"left","title":"k","values":[-0.4,-0.3,-0.2,-0.1,0,0.1,0.2,0.3,0.4,0.5,0.6],"format":".1~f","labelExpr":"replace(datum.label,'−','-')","grid":true,"labelPadding":26,"titlePadding":10,"labelFontSize":15}},"y2":{"field":"q90"},"color":{"datum":"90 %","scale":{"domain":["10 %","25 %","50 %","75 %","90 %","95 %"],"range":["#3a2c9c","#4263f5","#1ca7de","#48c985","#efb530","#f9f91c"]},"legend":null}}},
{"transform":[{"filter":"datum.q95>datum.q90"}],"mark":{"type":"bar","size":2.5},"encoding":{"y":{"field":"q90","type":"quantitative","scale":{"domain":[-0.4,0.6],"nice":false,"zero":false},"axis":{"orient":"left","title":"k","values":[-0.4,-0.3,-0.2,-0.1,0,0.1,0.2,0.3,0.4,0.5,0.6],"format":".1~f","labelExpr":"replace(datum.label,'−','-')","grid":true,"labelPadding":26,"titlePadding":10,"labelFontSize":15}},"y2":{"field":"q95"},"color":{"datum":"95 %","scale":{"domain":["10 %","25 %","50 %","75 %","90 %","95 %"],"range":["#3a2c9c","#4263f5","#1ca7de","#48c985","#efb530","#f9f91c"]},"legend":null}}},
{"transform":[{"filter":"isValid(datum.n)"}],"mark":{"type":"text","angle":270,"align":"left","baseline":"middle","fontSize":12,"fontWeight":"bold","color":"#000000"},"encoding":{"y":{"datum":0.362,"type":"quantitative"},"text":{"field":"n","type":"nominal"}}}
]
},
{"data":{"name":"sep"},"mark":{"type":"rule","strokeDash":[9,5],"strokeWidth":1.5,"color":"#000000"},"encoding":{"x":{"field":"st","type":"nominal","bandPosition":1,"axis":{"orient":"top","labels":false,"title":null,"grid":false,"bandPosition":0.55}},"y":{"datum":0.59,"type":"quantitative","axis":{"orient":"right","labels":false,"title":null,"grid":false,"values":[-0.4,-0.3,-0.2,-0.1,0,0.1,0.2,0.3,0.4,0.5,0.6]}},"y2":{"datum":-0.4}}},
{"data":{"values":[{}]},"mark":{"type":"text","text":"Reg7 nastavak","align":"left","baseline":"middle","fontSize":17,"fontWeight":"bold","color":"#000000","dx":14},"encoding":{"x":{"datum":"Zastrazisce","type":"nominal","bandPosition":0,"axis":null},"y":{"datum":0.542,"type":"quantitative","axis":null}}}
],
"resolve":{"axis":{"x":"independent","y":"independent"}}
},
{
"width":1807,"height":454,
"layer":[
{
"data":{"name":"s"},
"encoding":{
"x":{"field":"st","type":"nominal","scale":{"domain":["Zastrazisce","Gdinj","Bogomolje","Cara","Zaostorg","Janjina","Babino Polje","Maranovic","Sipan","Lopud","Dubrovnik","Cavtat","S Stoncica","Svetac","Lastovo"],"paddingInner":0,"paddingOuter":0},"axis":{"orient":"bottom","labels":true,"title":null,"bandPosition":0.55,"grid":true,"labelAngle":0,"labelPadding":37,"labelFontSize":14}},
"xOffset":{"field":"bx","type":"nominal","scale":{"domain":[1,2,3,4,5,6,7,8],"paddingInner":0,"paddingOuter":0.363,"align":0.75}}
},
"layer":[
{"transform":[{"filter":"datum.q10>datum.q05"}],"mark":{"type":"bar","size":2.5},"encoding":{"y":{"field":"q05","type":"quantitative","scale":{"domain":[-5,20],"nice":false,"zero":false},"axis":{"orient":"left","title":"σ-k* μ","values":[-5,0,5,10,15,20],"format":"d","labelExpr":"replace(datum.label,'−','-')","grid":true,"labelPadding":26,"titlePadding":10,"labelFontSize":15}},"y2":{"field":"q10"},"color":{"datum":"10 %","scale":{"domain":["10 %","25 %","50 %","75 %","90 %","95 %"],"range":["#3a2c9c","#4263f5","#1ca7de","#48c985","#efb530","#f9f91c"]},"legend":{"title":null}}}},
{"transform":[{"filter":"datum.q25>datum.q10"}],"mark":{"type":"bar","size":6},"encoding":{"y":{"field":"q10","type":"quantitative","scale":{"domain":[-5,20],"nice":false,"zero":false},"axis":{"orient":"left","title":"σ-k* μ","values":[-5,0,5,10,15,20],"format":"d","labelExpr":"replace(datum.label,'−','-')","grid":true,"labelPadding":26,"titlePadding":10,"labelFontSize":15}},"y2":{"field":"q25"},"color":{"datum":"25 %","scale":{"domain":["10 %","25 %","50 %","75 %","90 %","95 %"],"range":["#3a2c9c","#4263f5","#1ca7de","#48c985","#efb530","#f9f91c"]},"legend":{"title":null}}}},
{"transform":[{"filter":"datum.q50>datum.q25"}],"mark":{"type":"bar","size":10.5},"encoding":{"y":{"field":"q25","type":"quantitative","scale":{"domain":[-5,20],"nice":false,"zero":false},"axis":{"orient":"left","title":"σ-k* μ","values":[-5,0,5,10,15,20],"format":"d","labelExpr":"replace(datum.label,'−','-')","grid":true,"labelPadding":26,"titlePadding":10,"labelFontSize":15}},"y2":{"field":"q50"},"color":{"datum":"50 %","scale":{"domain":["10 %","25 %","50 %","75 %","90 %","95 %"],"range":["#3a2c9c","#4263f5","#1ca7de","#48c985","#efb530","#f9f91c"]},"legend":{"title":null}}}},
{"transform":[{"filter":"datum.q75>datum.q50"}],"mark":{"type":"bar","size":10.5},"encoding":{"y":{"field":"q50","type":"quantitative","scale":{"domain":[-5,20],"nice":false,"zero":false},"axis":{"orient":"left","title":"σ-k* μ","values":[-5,0,5,10,15,20],"format":"d","labelExpr":"replace(datum.label,'−','-')","grid":true,"labelPadding":26,"titlePadding":10,"labelFontSize":15}},"y2":{"field":"q75"},"color":{"datum":"75 %","scale":{"domain":["10 %","25 %","50 %","75 %","90 %","95 %"],"range":["#3a2c9c","#4263f5","#1ca7de","#48c985","#efb530","#f9f91c"]},"legend":{"title":null}}}},
{"transform":[{"filter":"datum.q90>datum.q75"}],"mark":{"type":"bar","size":6},"encoding":{"y":{"field":"q75","type":"quantitative","scale":{"domain":[-5,20],"nice":false,"zero":false},"axis":{"orient":"left","title":"σ-k* μ","values":[-5,0,5,10,15,20],"format":"d","labelExpr":"replace(datum.label,'−','-')","grid":true,"labelPadding":26,"titlePadding":10,"labelFontSize":15}},"y2":{"field":"q90"},"color":{"datum":"90 %","scale":{"domain":["10 %","25 %","50 %","75 %","90 %","95 %"],"range":["#3a2c9c","#4263f5","#1ca7de","#48c985","#efb530","#f9f91c"]},"legend":{"title":null}}}},
{"transform":[{"filter":"datum.q95>datum.q90"}],"mark":{"type":"bar","size":2.5},"encoding":{"y":{"field":"q90","type":"quantitative","scale":{"domain":[-5,20],"nice":false,"zero":false},"axis":{"orient":"left","title":"σ-k* μ","values":[-5,0,5,10,15,20],"format":"d","labelExpr":"replace(datum.label,'−','-')","grid":true,"labelPadding":26,"titlePadding":10,"labelFontSize":15}},"y2":{"field":"q95"},"color":{"datum":"95 %","scale":{"domain":["10 %","25 %","50 %","75 %","90 %","95 %"],"range":["#3a2c9c","#4263f5","#1ca7de","#48c985","#efb530","#f9f91c"]},"legend":{"title":null}}}}
]
},
{"data":{"name":"sep"},"mark":{"type":"rule","strokeDash":[9,5],"strokeWidth":1.5,"color":"#000000"},"encoding":{"x":{"field":"st","type":"nominal","bandPosition":1,"axis":{"orient":"top","labels":false,"title":null,"grid":false,"bandPosition":0.55}},"y":{"datum":19.8,"type":"quantitative","axis":{"orient":"right","labels":false,"title":null,"grid":false,"values":[-5,0,5,10,15,20]}},"y2":{"datum":-5}}}
],
"resolve":{"axis":{"x":"independent","y":"independent"}}
}
],
"resolve":{"scale":{"color":"independent","x":"independent","y":"independent","xOffset":"independent"},"legend":{"color":"independent"}},
"config":{
"font":"Liberation Sans",
"view":{"stroke":"#3c3c3c","strokeWidth":1},
"bar":{"stroke":"#1e1e1e","strokeWidth":0.8},
"axis":{"labelFont":"Liberation Sans","labelFontWeight":"bold","labelFontSize":13,"labelColor":"#262626","tickColor":"#303030","tickWidth":1,"tickSize":-18,"gridColor":"#e3e3e3","gridWidth":1,"domain":false,"titleFont":"Liberation Sans","titleFontWeight":"bold","titleFontSize":15,"titleColor":"#262626"},
"legend":{"orient":"none","legendX":10,"legendY":14,"direction":"horizontal","symbolType":"M-2.75,-1H2.75V1H-2.75Z","symbolSize":256,"symbolStrokeColor":"#262626","symbolStrokeWidth":1,"symbolOffset":14,"labelOffset":17,"labelFontSize":16,"labelFontWeight":"bold","labelFont":"Liberation Sans","labelColor":"#111111","columnPadding":8,"padding":4,"fillColor":"white","strokeColor":"#262626"}
}
}
